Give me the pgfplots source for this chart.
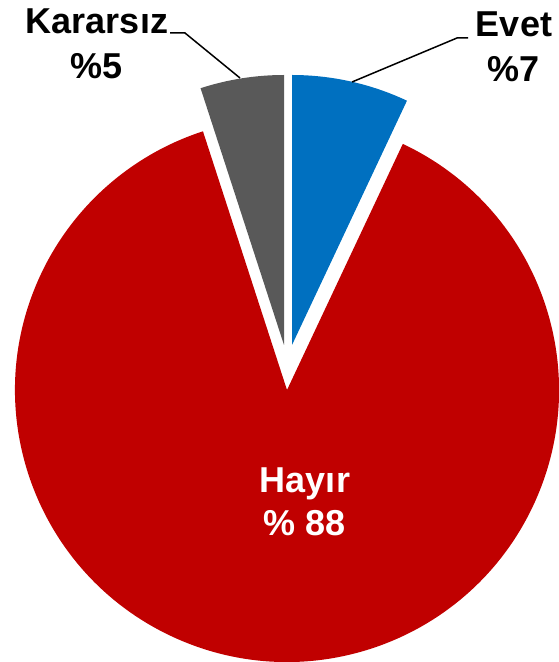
\documentclass[border=0pt]{standalone}
\usepackage{fontspec}
\setmainfont{Liberation Sans}
\usepackage{pgfplots}
\usepackage{pgfplotstable}
\pgfplotsset{compat=1.18}

\definecolor{evetblue}{HTML}{0070C0}
\definecolor{hayirred}{HTML}{C00000}
\definecolor{kargray}{HTML}{595959}

% shares in percent
\pgfplotstableread{
label    value
Evet     7
Hayir    88
Kararsiz 5
}\votes

\pgfplotstablegetelem{0}{value}\of\votes \let\vEvet\pgfplotsretval
\pgfplotstablegetelem{2}{value}\of\votes \let\vKar\pgfplotsretval
% angles, clockwise from 12 o'clock
\pgfmathsetmacro\aEvet{90-3.6*\vEvet}
\pgfmathsetmacro\aKar{90+3.6*\vKar}
\pgfmathsetmacro\aRed{\aKar-360}

\tikzset{lbl/.style={anchor=base, font=\fontsize{36}{42}\selectfont\bfseries}}

\begin{document}
\begin{tikzpicture}
\path[use as bounding box] (0,0) rectangle (559pt,662pt);
\begin{axis}[
    at={(0,0)}, anchor=south west,
    x=1pt, y=1pt,
    xmin=0, xmax=559, ymin=0, ymax=662,
    hide axis,
    clip=false,
]
% Hayir
\fill[hayirred] (axis cs:287,272) -- ++(\aEvet:272pt)
    arc[start angle=\aEvet, end angle=\aRed, radius=272pt] -- cycle;
% Evet (exploded)
\fill[evetblue] (axis cs:292,317) -- ++(90:270pt)
    arc[start angle=90, end angle=\aEvet, radius=270pt] -- cycle;
% Kararsiz (exploded)
\fill[kargray] (axis cs:284,317) -- ++(\aKar:270pt)
    arc[start angle=\aKar, end angle=90, radius=270pt] -- cycle;

% leader lines
\draw[line width=1.5pt] (axis cs:170,629) -- (axis cs:185,629) -- (axis cs:240,584);
\draw[line width=1.5pt] (axis cs:468,624) -- (axis cs:457,624) -- (axis cs:352,580);

% labels
\node[lbl] at (axis cs:97,628) {Kararsız};
\node[lbl] at (axis cs:97,583) {\%5};
\node[lbl] at (axis cs:514,625) {Evet};
\node[lbl] at (axis cs:514,580) {\%7};
\node[lbl, text=white] at (axis cs:305,169) {Hayır};
\node[lbl, text=white] at (axis cs:305,126) {\% 88};
\end{axis}
\end{tikzpicture}
\end{document}
